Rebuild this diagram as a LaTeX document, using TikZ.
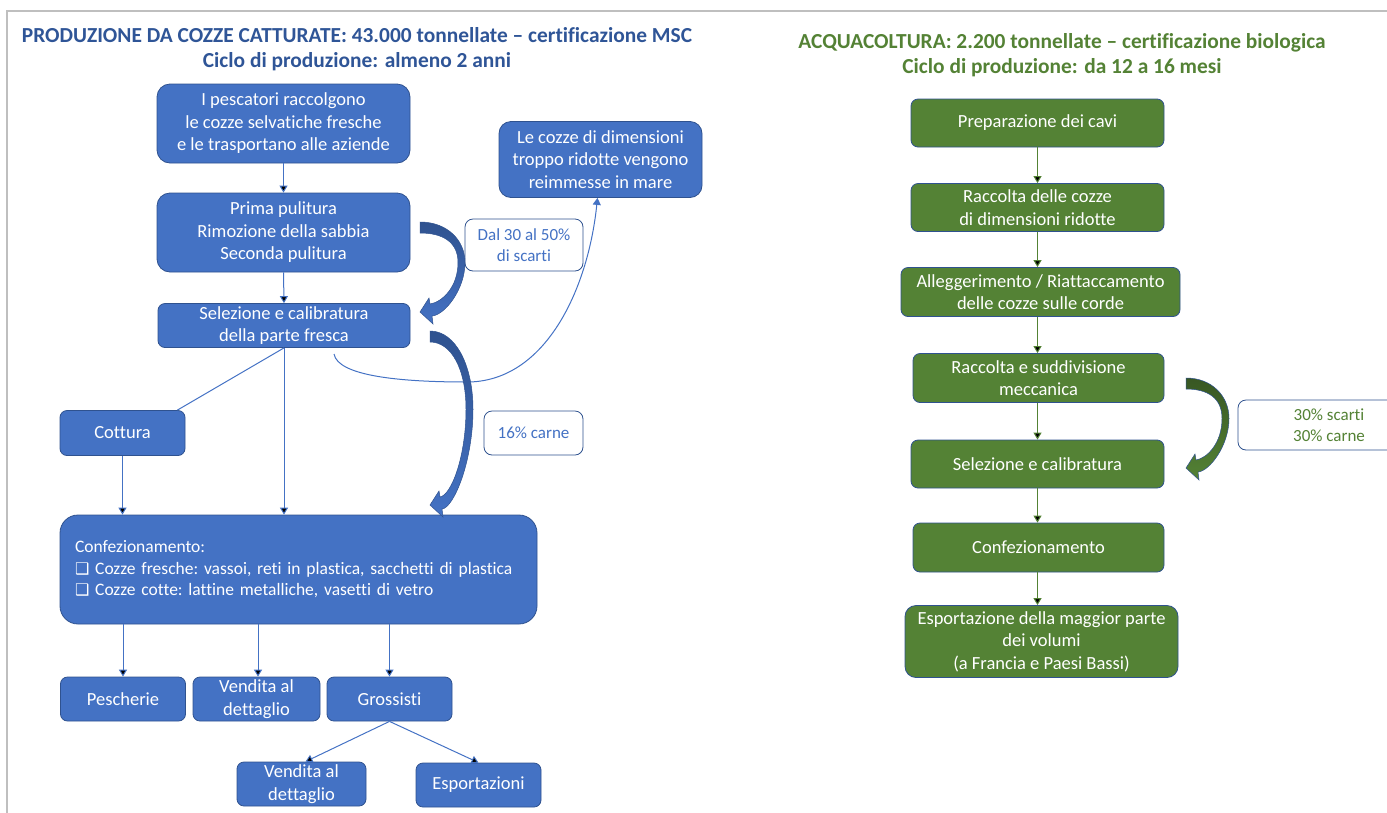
\documentclass[tikz,border=0pt]{standalone}
\usepackage{fontspec}
\setmainfont{Carlito}[Ligatures=NoCommon]
\newfontfamily\boxsym{DejaVu Sans}
\usetikzlibrary{arrows.meta}

\definecolor{boxblue}{HTML}{4472C4}
\definecolor{edgeblue}{HTML}{2F528F}
\definecolor{titleblue}{HTML}{2F5597}
\definecolor{boxgreen}{HTML}{548235}
\definecolor{darkgreen}{HTML}{385723}
\definecolor{framegray}{HTML}{BFBFBF}

% block arrow bent to the right: x, y of tail top, height, bulge, style
\newcommand{\bendarrow}[5]{%
  \path[#5] (#1,#2)
    .. controls ({#1+0.6*#4},#2) and ({#1+#4},{#2+0.2*#3}) .. ({#1+#4},{#2+0.45*#3})
    .. controls ({#1+#4},{#2+0.75*#3}) and ({#1+0.55*#4},{#2+#3+3}) .. ({#1+12},{#2+#3+4})
    -- ({#1+13},{#2+#3+12}) -- (#1,{#2+#3}) -- ({#1+9},{#2+#3-14}) -- ({#1+10},{#2+#3-8})
    .. controls ({#1+0.5*#4},{#2+#3-10}) and ({#1+#4-7},{#2+0.72*#3}) .. ({#1+#4-7},{#2+0.45*#3})
    .. controls ({#1+#4-7},{#2+0.22*#3}) and ({#1+0.5*#4},{#2+11}) .. (#1,{#2+11})
    -- cycle;}

\begin{document}
\begin{tikzpicture}[x=1pt, y=-1pt,
    >={Triangle[width=8pt,length=7pt]},
    every node/.style={font=\fontsize{18.5}{22.5}\selectfont\frenchspacing},
    bl/.style={draw=edgeblue, fill=boxblue, text=white, align=center, rounded corners=7pt, line width=0.8pt, inner sep=0pt},
    gr/.style={draw=edgeblue, fill=boxgreen, text=white, align=center, rounded corners=7pt, line width=0.8pt, inner sep=0pt},
    note/.style={draw=edgeblue, fill=white, align=center, rounded corners=8pt, line width=0.8pt, inner sep=0pt, font=\fontsize{17}{21}\selectfont},
    bluelink/.style={draw=boxblue, line width=1pt},
    greenlink/.style={draw=boxgreen, line width=1pt},
    bendblue/.style={top color=edgeblue, bottom color=boxblue, draw=edgeblue, line width=0.5pt},
    bendgreen/.style={top color=darkgreen, bottom color=boxgreen, draw=edgeblue, line width=0.5pt}]
\useasboundingbox (0,0) rectangle (1387,812);
\draw[framegray, line width=2pt] (7,815) -- (7,11) -- (1392,11);

% wild mussels
\node (t1) [text=titleblue, font=\bfseries\fontsize{21.4}{25}\selectfont, align=center] at (357,49) {PRODUZIONE DA COZZE CATTURATE: 43.000 tonnellate – certificazione MSC\\Ciclo di produzione: almeno 2 anni};
\node (pe) [bl, minimum width=253pt, minimum height=79pt, rounded corners=13pt] at (283.5,123.5) {I pescatori raccolgono\\le cozze selvatiche fresche\\e le trasportano alle aziende};
\node (pu) [bl, minimum width=253pt, minimum height=79pt, rounded corners=13pt] at (283.5,232.5) {Prima pulitura\\Rimozione della sabbia\\Seconda pulitura};
\node (sc) [bl, minimum width=252pt, minimum height=44pt] at (284,325.5) {Selezione e calibratura\\della parte fresca};
\node (re) [bl, minimum width=203pt, minimum height=76pt, rounded corners=12pt] at (600.5,159.5) {Le cozze di dimensioni\\troppo ridotte vengono\\reimmesse in mare};
\node (co) [bl, minimum width=125pt, minimum height=45pt] at (122.5,433) {Cottura};
\node (cf) [bl, minimum width=477pt, minimum height=109pt, rounded corners=18pt, text width=447pt, align=left, font=\fontsize{17.5}{21.5}\selectfont\frenchspacing] at (298.5,569.5) {Confezionamento:\\{\boxsym\fontsize{16}{16}\selectfont ❑} Cozze fresche: vassoi, reti in plastica, sacchetti di plastica\\{\boxsym\fontsize{16}{16}\selectfont ❑} Cozze cotte: lattine metalliche, vasetti di vetro};
\node (pz) [bl, minimum width=125pt, minimum height=44pt] at (123,699) {Pescherie};
\node (vd) [bl, minimum width=127pt, minimum height=44pt] at (256.5,699) {Vendita al\\dettaglio};
\node (gs) [bl, minimum width=125pt, minimum height=44pt] at (389.5,699) {Grossisti};
\node (v2) [bl, minimum width=129pt, minimum height=44pt] at (301.5,784) {Vendita al\\dettaglio};
\node (es) [bl, minimum width=125pt, minimum height=44pt] at (478.5,785) {Esportazioni};
\node (n1) [note, text=boxblue, minimum width=118pt, minimum height=52pt] at (524,245) {Dal 30 al 50\%\\di scarti};
\node (n2) [note, text=boxblue, minimum width=99pt, minimum height=44pt] at (533.5,433) {16\% carne};

\path[bluelink] (pe.south) edge [ -> ] (pu.north);
\path[bluelink] (pu.south) edge [ -> ] (sc.north);
\path[bluelink] (sc.south) edge ([xshift=-8pt]co.north east);
\path[bluelink] (sc.south) edge [ -> ] (sc.south |- cf.north);
\path[bluelink] (co.south) edge [ -> ] (co.south |- cf.north);
\path[bluelink] (pz.north |- cf.south) edge [ -> ] (pz.north);
\path[bluelink] ([xshift=1.5pt]vd.north |- cf.south) edge [ -> ] ([xshift=1.5pt]vd.north);
\path[bluelink] (gs.north |- cf.south) edge [ -> ] (gs.north);
\path[bluelink] (gs.south) edge [ -> ] ([xshift=4pt]v2.north);
\path[bluelink] (gs.south) edge [ -> ] (es.north);

\coordinate (sx) at (334,354);
\draw[bluelink, ->] (sx) .. controls (338,376) and (400,382) .. (467,382) .. controls (545,382) and (588,290) .. ([xshift=-3pt]re.south);

\bendarrow{420}{222}{90}{45}{bendblue}
\bendarrow{430}{331}{174}{43}{bendblue}

% aquaculture
\node (t2) [text=boxgreen, font=\bfseries\fontsize{21.4}{25}\selectfont, align=center] at (1062,55) {ACQUACOLTURA: 2.200 tonnellate – certificazione biologica\\Ciclo di produzione: da 12 a 16 mesi};
\node (g1) [gr, minimum width=253pt, minimum height=48pt] at (1037.5,123) {Preparazione dei cavi};
\node (g2) [gr, minimum width=253pt, minimum height=48pt] at (1037.5,207.5) {Raccolta delle cozze\\di dimensioni ridotte};
\node (g3) [gr, minimum width=279pt, minimum height=49pt] at (1040.5,292) {Alleggerimento / Riattaccamento\\delle cozze sulle corde};
\node (g4) [gr, minimum width=251pt, minimum height=49pt] at (1038.5,378) {Raccolta e suddivisione\\meccanica};
\node (g5) [gr, minimum width=253pt, minimum height=48pt] at (1037.5,464) {Selezione e calibratura};
\node (g6) [gr, minimum width=251pt, minimum height=49pt] at (1038.5,547.5) {Confezionamento};
\node (g7) [gr, minimum width=273pt, minimum height=72pt, rounded corners=11pt] at (1041.5,641.5) {Esportazione della maggior parte\\dei volumi\\(a Francia e Paesi Bassi)};
\node (n3) [note, text=boxgreen, minimum width=182pt, minimum height=50pt] at (1329,425) {30\% scarti\\30\% carne};

\path[greenlink] (g1.south) edge [ -> ] (g1.south |- g2.north);
\path[greenlink] (g2.south) edge [ -> ] (g1.south |- g3.north);
\path[greenlink] (g1.south |- g3.south) edge [ -> ] (g1.south |- g4.north);
\path[greenlink] (g1.south |- g4.south) edge [ -> ] (g1.south |- g5.north);
\path[greenlink] (g5.south) edge [ -> ] (g1.south |- g6.north);
\path[greenlink] (g1.south |- g6.south) edge [ -> ] (g1.south |- g7.north);

\bendarrow{1186}{378}{90}{43}{bendgreen}
\end{tikzpicture}
\end{document}
